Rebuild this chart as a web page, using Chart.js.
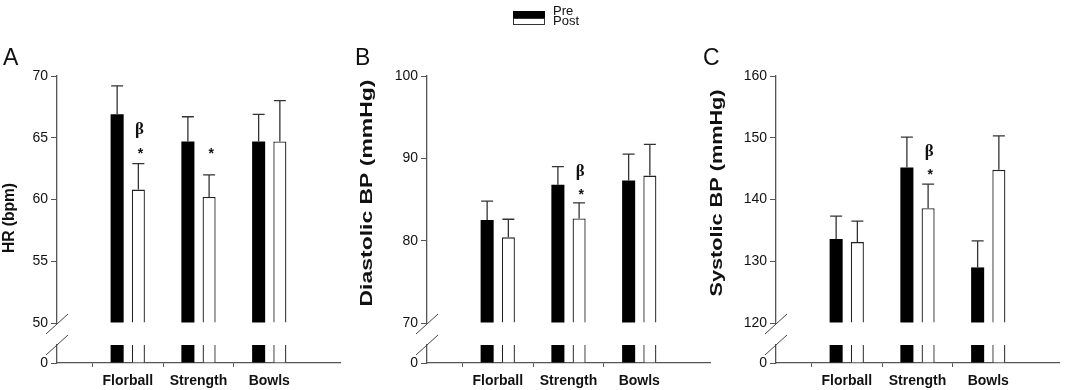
<!DOCTYPE html>
<html>
<head>
<meta charset="utf-8">
<script src="https://cdn.jsdelivr.net/npm/chart.js@4.4.0/dist/chart.umd.min.js"></script>
<style>
  body { margin: 0; background: #fff; }
  #wrap { position: relative; width: 1065px; height: 390px; overflow: hidden; font-family: "Liberation Sans", Arial, sans-serif; color: #111; }
  canvas { position: absolute; top: 0; }
  .letter { position: absolute; font-size: 23px; line-height: 23px; }
  .lgbox { position: absolute; left: 513px; width: 32px; height: 7px; box-sizing: border-box; }
  .lgtxt { position: absolute; left: 553px; font-size: 13px; line-height: 13px; }
</style>
</head>
<body>
<div id="wrap">
  <canvas id="cA" width="346" height="390" style="left:0px"></canvas>
  <canvas id="cB" width="366" height="390" style="left:350px"></canvas>
  <canvas id="cC" width="365" height="390" style="left:700px"></canvas>

  <div class="letter" style="left:3px;top:46px">A</div>
  <div class="letter" style="left:355px;top:46px">B</div>
  <div class="letter" style="left:703px;top:46px">C</div>

  <div class="lgbox" style="top:11px;background:#000"></div>
  <div class="lgbox" style="top:18px;background:#fff;border:1px solid #333"></div>
  <div class="lgtxt" style="top:4px">Pre</div>
  <div class="lgtxt" style="top:14px">Post</div>
</div>

<script>
// categorias y series
var categories = ['Florball', 'Strength', 'Bowls'];
var seriesNames = ['Pre', 'Post'];

// HR (bpm)
var hrPre = [66.9, 64.7, 64.7];
var hrPreErr = [2.3, 2.0, 2.2];
var hrPost = [60.8, 60.2, 64.7];
var hrPostErr = [2.1, 1.8, 3.3];
var hrTicks = [50, 70, 5];   // min, max, paso

// Diastolic BP (mmHg)
var diaPre = [82.5, 86.8, 87.3];
var diaPreErr = [2.3, 2.2, 3.2];
var diaPost = [80.4, 82.7, 87.9];
var diaPostErr = [2.2, 1.9, 3.8];
var diaTicks = [70, 100, 10];

// Systolic BP (mmHg)
var sysPre = [133.6, 145.2, 129.0];
var sysPreErr = [3.7, 4.9, 4.3];
var sysPost = [133.1, 138.6, 144.8];
var sysPostErr = [3.4, 3.9, 5.5];
var sysTicks = [120, 160, 10];

// marcas de significancia sobre las barras Post: [categoria, texto, valor]
var hrMarks = [[0, 'β', 65.6], [0, '*', 63.9], [1, '*', 63.9]];
var diaMarks = [[1, 'β', 88.4], [1, '*', 85.9]];
var sysMarks = [[1, 'β', 147.7], [1, '*', 144.5]];

var AXIS = '#555';
var FONT = '"Liberation Sans", Arial, sans-serif';

// agrega categorias vacias a los lados
function pad(arr) {
    return [null].concat(arr, [null]);
}

// dibuja barras de error, marcas, cortes del eje y titulo del eje y
function decorPlugin(p) {
    return {
        id: 'decor',
        afterDatasetsDraw: function(chart) {
            var ctx = chart.ctx;
            var yTop = chart.scales.yTop;
            var yBot = chart.scales.yBot;
            ctx.save();

            // barras de error (solo hacia arriba)
            [[0, p.preErr], [1, p.postErr]].forEach(function(pair) {
                var meta = chart.getDatasetMeta(pair[0]);
                var vals = chart.data.datasets[pair[0]].data;
                pair[1].forEach(function(err, i) {
                    var bar = meta.data[i + 1];
                    var top = yTop.getPixelForValue(vals[i + 1] + err);
                    ctx.strokeStyle = '#333';
                    ctx.lineWidth = 1.3;
                    ctx.beginPath();
                    ctx.moveTo(bar.x, bar.y);
                    ctx.lineTo(bar.x, top);
                    ctx.moveTo(bar.x - 6, top);
                    ctx.lineTo(bar.x + 6, top);
                    ctx.stroke();
                });
            });

            // beta y asteriscos
            var postMeta = chart.getDatasetMeta(1);
            p.marks.forEach(function(m) {
                var bar = postMeta.data[m[0] + 1];
                var yc = yTop.getPixelForValue(m[2]);
                ctx.fillStyle = '#111';
                ctx.font = m[1] == 'β' ? 'bold 17px "Liberation Serif", serif' : 'bold 14px ' + FONT;
                ctx.textAlign = 'center';
                ctx.textBaseline = 'alphabetic';
                var tm = ctx.measureText(m[1]);
                var dx = m[1] == '*' ? 2 : 1;
                ctx.fillText(m[1], bar.x + dx, yc + (tm.actualBoundingBoxAscent - tm.actualBoundingBoxDescent) / 2);
            });

            // cortes del eje (//)
            var ax = chart.chartArea.left;
            ctx.strokeStyle = '#444';
            ctx.lineWidth = 1;
            [yTop.bottom + 1, yBot.top].forEach(function(y) {
                ctx.beginPath();
                ctx.moveTo(ax - 11, y + 10);
                ctx.lineTo(ax + 11, y - 10);
                ctx.stroke();
            });

            // titulo del eje y
            ctx.translate(p.titleX, p.titleY);
            ctx.rotate(-Math.PI / 2);
            ctx.font = 'bold 16px ' + FONT;
            var w = ctx.measureText(p.title).width;
            ctx.scale(p.titleLen / w, 1);
            ctx.textAlign = 'center';
            ctx.textBaseline = 'middle';
            ctx.fillStyle = '#111';
            ctx.fillText(p.title, 0, 0);

            ctx.restore();
        }
    };
}

function fixWidth(w) {
    return function(scale) { scale.width = w; };
}

function makePanel(p) {
    var breakAt = p.ticks[0];
    var lowPre = p.pre.map(function(v) { return Math.min(v, breakAt); });
    var lowPost = p.post.map(function(v) { return Math.min(v, breakAt); });

    return new Chart(document.getElementById(p.canvas), {
        type: 'bar',
        data: {
            labels: pad(categories).map(function(c) { return c || ''; }),
            datasets: [
                { label: seriesNames[0], data: pad(p.pre), yAxisID: 'yTop', stack: 'pre', base: breakAt,
                  backgroundColor: '#000', borderWidth: 0 },
                { label: seriesNames[1], data: pad(p.post), yAxisID: 'yTop', stack: 'post', base: breakAt,
                  backgroundColor: '#fff', borderColor: '#222', borderWidth: { top: 1.3, left: 1.3, right: 1.3, bottom: 0 } },
                { label: seriesNames[0], data: pad(lowPre), yAxisID: 'yBot', stack: 'pre',
                  backgroundColor: '#000', borderWidth: 0 },
                { label: seriesNames[1], data: pad(lowPost), yAxisID: 'yBot', stack: 'post',
                  backgroundColor: '#fff', borderColor: '#222', borderWidth: { top: 0, left: 1.3, right: 1.3, bottom: 0 } }
            ]
        },
        options: {
            responsive: false,
            animation: false,
            categoryPercentage: 0.6,
            barPercentage: 0.615,
            layout: { padding: { top: 76, right: 1, bottom: 0, left: 0 } },
            plugins: { legend: { display: false }, tooltip: { enabled: false } },
            scales: {
                x: {
                    type: 'category',
                    offset: false,
                    afterFit: function(scale) { scale.height = 27; },
                    border: { color: AXIS, width: 1.3 },
                    grid: {
                        drawOnChartArea: false, tickLength: 4,
                        tickColor: function(c) { return (c.index == 0 || c.index == 4) ? 'rgba(0,0,0,0)' : AXIS; }
                    },
                    ticks: { autoSkip: false, maxRotation: 0, padding: 6, color: '#111', font: { family: FONT, size: 14, weight: 'bold' } }
                },
                // los ejes apilados se colocan de abajo hacia arriba en orden inverso
                yBot: {
                    type: 'linear', position: 'left', stack: 'v', stackWeight: 18, stacked: false,
                    min: 0, max: breakAt,
                    afterFit: fixWidth(p.yWidth),
                    afterBuildTicks: function(scale) { scale.ticks = [{ value: 0 }]; },
                    border: { color: AXIS, width: 1.3 },
                    grid: { drawOnChartArea: false, tickLength: 6, tickColor: AXIS },
                    ticks: { padding: 3, color: '#111', font: { family: FONT, size: 14 } }
                },
                yGap: {
                    type: 'linear', position: 'left', stack: 'v', stackWeight: 22,
                    min: 0, max: 1,
                    afterFit: fixWidth(p.yWidth),
                    afterBuildTicks: function(scale) { scale.ticks = []; },
                    border: { display: false },
                    grid: { display: false },
                    ticks: { display: false }
                },
                yTop: {
                    type: 'linear', position: 'left', stack: 'v', stackWeight: 247, stacked: false,
                    min: p.ticks[0], max: p.ticks[1],
                    afterFit: fixWidth(p.yWidth),
                    border: { color: AXIS, width: 1.3 },
                    grid: { drawOnChartArea: false, tickLength: 6, tickColor: AXIS },
                    ticks: { stepSize: p.ticks[2], padding: 3, color: '#111', font: { family: FONT, size: 14 } }
                }
            }
        },
        plugins: [decorPlugin(p)]
    });
}

makePanel({ canvas: 'cA', pre: hrPre, post: hrPost, preErr: hrPreErr, postErr: hrPostErr,
    ticks: hrTicks, marks: hrMarks, yWidth: 57,
    title: 'HR (bpm)', titleX: 10, titleY: 218, titleLen: 70 });

makePanel({ canvas: 'cB', pre: diaPre, post: diaPost, preErr: diaPreErr, postErr: diaPostErr,
    ticks: diaTicks, marks: diaMarks, yWidth: 77,
    title: 'Diastolic BP (mmHg)', titleX: 18, titleY: 193, titleLen: 227 });

makePanel({ canvas: 'cC', pre: sysPre, post: sysPost, preErr: sysPreErr, postErr: sysPostErr,
    ticks: sysTicks, marks: sysMarks, yWidth: 76,
    title: 'Systolic BP (mmHg)', titleX: 18, titleY: 193, titleLen: 207 });
</script>
</body>
</html>
